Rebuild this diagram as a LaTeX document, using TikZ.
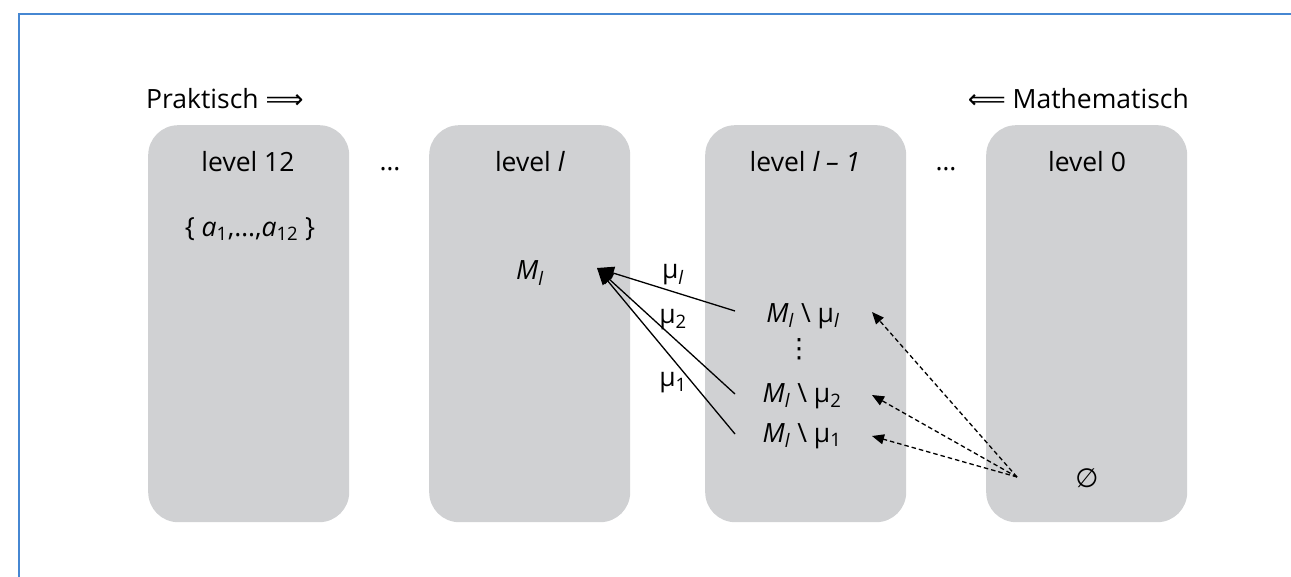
\documentclass[tikz,border=0pt]{standalone}
\usepackage{fontspec}
\setmainfont{Open Sans}
\newfontfamily\symfont{DejaVu Sans}
\usetikzlibrary{arrows.meta}
\definecolor{boxgrey}{RGB}{208,209,211}
\definecolor{frameblue}{RGB}{70,135,210}
\newcommand{\Ml}{\textit{M}\textsubscript{\textit{l}}}
\newcommand{\mul}{μ\textsubscript{\textit{l}}}
\begin{document}
\begin{tikzpicture}[x=1pt,y=-1pt,
  levelbox/.style={fill=boxgrey, rounded corners=30pt, minimum width=201pt, minimum height=397pt, inner sep=0pt, anchor=north west},
  lbl/.style={font=\fontsize{26.5}{30}\selectfont, inner sep=1pt},
  solidarrow/.style={-{Triangle[length=17pt,width=13pt]}, line width=1.3pt},
  dasharrow/.style={-{Triangle[length=12pt,width=10pt]}, line width=1.3pt, dash pattern=on 4.5pt off 3pt}]
\useasboundingbox (0,0) rectangle (1291,577);
\draw[frameblue, line width=1.6pt] (19,577) -- (19,14) -- (1291,14);
% boxes
\node[levelbox] (b12) at (148,125) {};
\node[levelbox] (bl) at (429,125) {};
\node[levelbox] (blm) at (705,125) {};
\node[levelbox] (b0) at (986,125) {};
% headers
\node[lbl, anchor=west] (prak) at (145,99) {Praktisch {\symfont ⟹}};
\node[lbl, anchor=east] (math) at (1190,99) {{\symfont ⟸} Mathematisch};
\node[lbl] (t12) at (248,162) {level 12};
\node[lbl] (tl) at (530,162) {level \textit{l}};
\node[lbl] (tlm) at (805,162) {level \textit{l – 1}};
\node[lbl] (t0) at (1087,162) {level 0};
\node[lbl, anchor=base] (d1) at (390,171) {…};
\node[lbl, anchor=base] (d2) at (946,171) {…};
% contents
\node[lbl] (set) at (250,229) {\{ \textit{a}\textsubscript{1},…,\textit{a}\textsubscript{12} \}};
\node[lbl] (Ml) at (530,273) {\Ml};
\coordinate (tip) at (597,268);
\node[lbl] (r1) at (803,316) {\Ml\ \textbackslash\ \mul};
\node[lbl] (vd) at (799,349) {{\symfont ⋮}};
\node[lbl] (r2) at (802,396) {\Ml\ \textbackslash\ μ\textsubscript{2}};
\node[lbl] (r3) at (802,436) {\Ml\ \textbackslash\ μ\textsubscript{1}};
\node[lbl] (e0) at (1087,478) {{\symfont ∅}};
% solid arrows
\coordinate (s1) at (735,311);
\coordinate (s2) at (735,394);
\coordinate (s3) at (735,434);
\draw[solidarrow] (s1) -- (tip);
\draw[solidarrow] (s2) -- (tip);
\draw[solidarrow] (s3) -- (tip);
\node[lbl] (m1) at (673,275) {\mul};
\node[lbl] (m2) at (673,320) {μ\textsubscript{2}};
\node[lbl] (m3) at (673,383) {μ\textsubscript{1}};
% dashed arrows
\coordinate (src) at (1017,477);
\coordinate (d1t) at (872,312);
\coordinate (d2t) at (872,395);
\coordinate (d3t) at (872,436);
\draw[dasharrow] (src) -- (d1t);
\draw[dasharrow] (src) -- (d2t);
\draw[dasharrow] (src) -- (d3t);
\end{tikzpicture}
\end{document}
